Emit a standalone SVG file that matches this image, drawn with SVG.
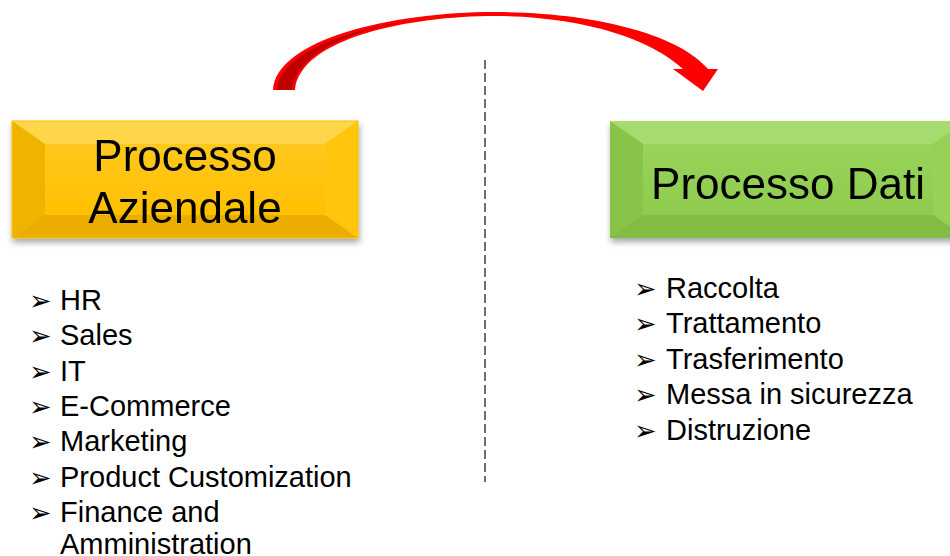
<svg xmlns="http://www.w3.org/2000/svg" width="950" height="556" viewBox="0 0 950 556">
<defs>
  <filter id="sh" x="-10%" y="-10%" width="120%" height="130%">
    <feDropShadow dx="1" dy="4" stdDeviation="3" flood-color="#000" flood-opacity="0.35"/>
  </filter>
  <linearGradient id="yface" x1="0" y1="0" x2="0" y2="1">
    <stop offset="0" stop-color="#FFC81E"/>
    <stop offset="1" stop-color="#FFC000"/>
  </linearGradient>
  <linearGradient id="gface" x1="0" y1="0" x2="0" y2="1">
    <stop offset="0" stop-color="#98D458"/>
    <stop offset="1" stop-color="#8FCB4E"/>
  </linearGradient>
</defs>
<style>
  .title { font-family: "Liberation Sans", Arial, sans-serif; font-size: 44px; fill: #000; text-anchor: middle; }
  .item { font-family: "Liberation Sans", Arial, sans-serif; font-size: 29px; fill: #000; }
  .bul { font-family: "DejaVu Sans", sans-serif; font-size: 27px; fill: #000; }
</style>

<rect width="950" height="556" fill="#fff"/>

<g id="divider">
  <line x1="485" y1="60" x2="485" y2="482" stroke="#222" stroke-width="1.3" stroke-dasharray="9,4"/>
</g>

<g id="connectors">
  <path d="M 273 90 C 276 40 390 12 495 12 C 595 12 680 35 708 69 L 718 69 L 703 91 L 673 69 L 683 69 C 650 38 580 16 495 16 C 410 16 300 38 295 90 Z" fill="#FF0000"/>
  <path d="M 277 90 C 280 52 350 26 440 17 C 370 24 298 46 292 90 Z" fill="#C00000"/>
</g>

<g id="node-aziendale" filter="url(#sh)">
  <rect x="12" y="121" width="346" height="117" fill="url(#yface)"/>
  <polygon points="12,121 358,121 325,144 45,144" fill="#FFD54A"/>
  <polygon points="12,121 45,144 45,215 12,238" fill="#EFB400"/>
  <polygon points="358,121 358,238 325,215 325,144" fill="#FFC60A"/>
  <polygon points="12,238 45,215 325,215 358,238" fill="#EAAD00"/>
  <rect x="45" y="144" width="280" height="71" fill="url(#yface)"/>
  <rect x="12" y="121" width="346" height="117" fill="none" stroke="#F5C000" stroke-width="1"/>
  <text class="title" x="185" y="171">Processo</text>
  <text class="title" x="185" y="223">Aziendale</text>
</g>

<g id="node-dati" filter="url(#sh)">
  <rect x="610" y="121" width="356" height="117" fill="url(#gface)"/>
  <polygon points="610,121 966,121 933,144 643,144" fill="#A6DB70"/>
  <polygon points="610,121 643,144 643,215 610,238" fill="#88C446"/>
  <polygon points="966,121 966,238 933,215 933,144" fill="#97D157"/>
  <polygon points="610,238 643,215 933,215 966,238" fill="#82BC42"/>
  <rect x="643" y="144" width="290" height="71" fill="url(#gface)"/>
  <text class="title" x="788" y="199">Processo Dati</text>
</g>

<g id="list-aziendale">
  <text class="bul" x="29" y="310">➢</text><text class="item" x="60" y="310">HR</text>
  <text class="bul" x="29" y="345">➢</text><text class="item" x="60" y="345">Sales</text>
  <text class="bul" x="29" y="381">➢</text><text class="item" x="60" y="381">IT</text>
  <text class="bul" x="29" y="416">➢</text><text class="item" x="60" y="416">E-Commerce</text>
  <text class="bul" x="29" y="451">➢</text><text class="item" x="60" y="451">Marketing</text>
  <text class="bul" x="29" y="487">➢</text><text class="item" x="60" y="487">Product Customization</text>
  <text class="bul" x="29" y="522">➢</text><text class="item" x="60" y="522">Finance and</text>
  <text class="item" x="60" y="554">Amministration</text>
</g>

<g id="list-dati">
  <text class="bul" x="634" y="298">➢</text><text class="item" x="666" y="298">Raccolta</text>
  <text class="bul" x="634" y="333">➢</text><text class="item" x="666" y="333">Trattamento</text>
  <text class="bul" x="634" y="369">➢</text><text class="item" x="666" y="369">Trasferimento</text>
  <text class="bul" x="634" y="404">➢</text><text class="item" x="666" y="404">Messa in sicurezza</text>
  <text class="bul" x="634" y="440">➢</text><text class="item" x="666" y="440">Distruzione</text>
</g>
</svg>
